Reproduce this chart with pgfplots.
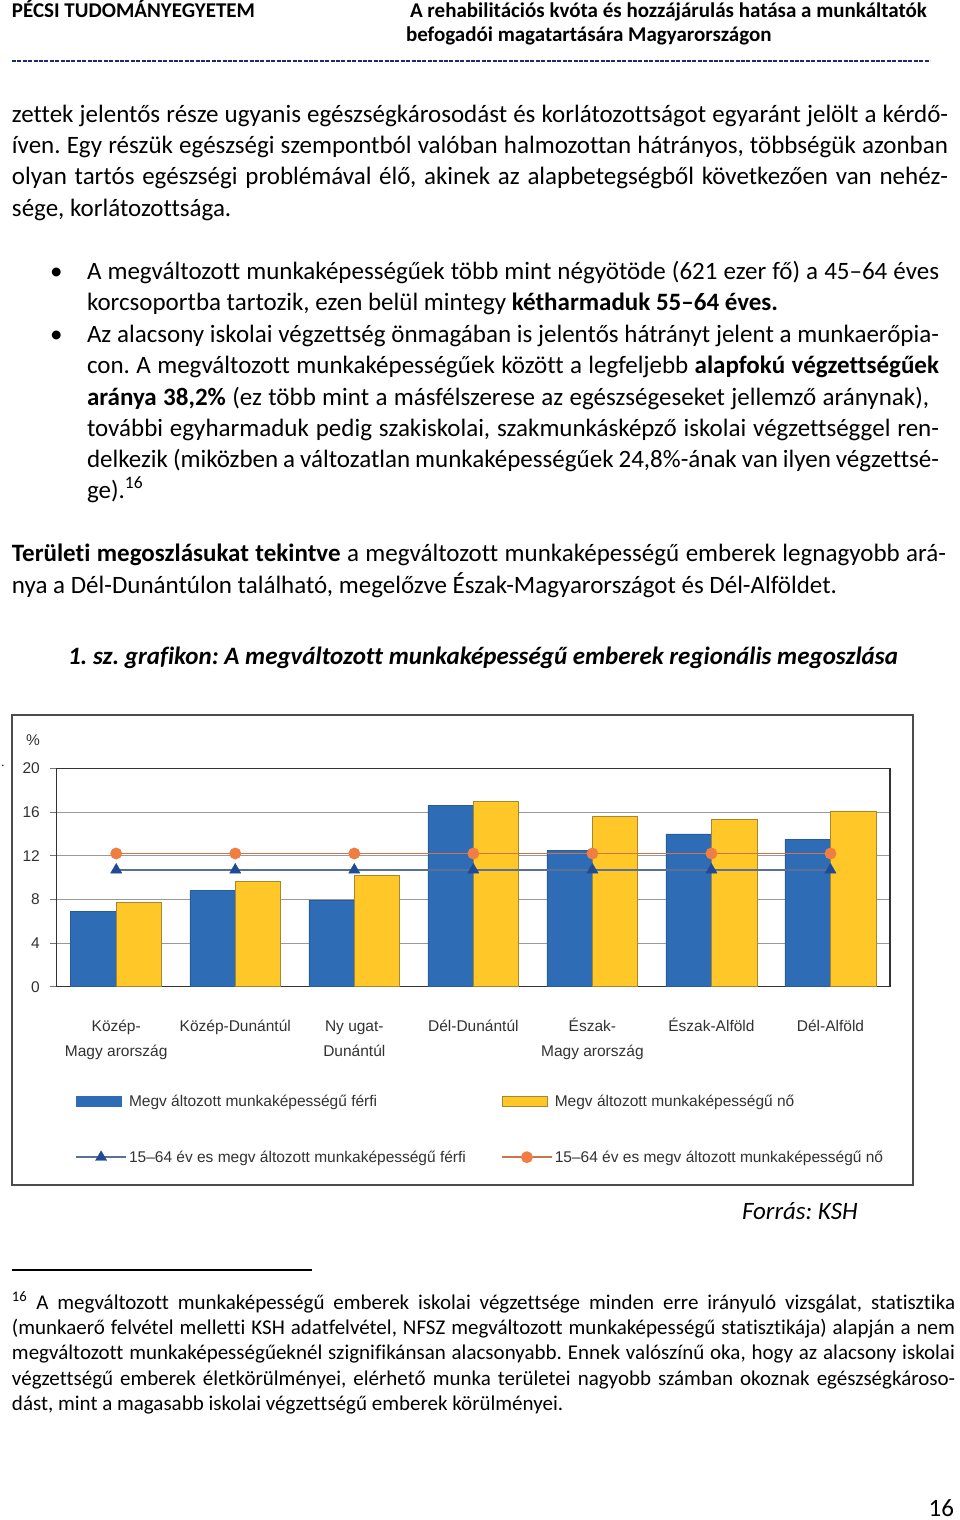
\documentclass[border=0pt]{standalone}
\usepackage{fontspec}
\setmainfont{Carlito}[Ligatures={NoCommon}]
\newfontfamily\chartfont{Liberation Sans}
\usepackage{pgfplots}
\pgfplotsset{compat=1.18}
\frenchspacing
\definecolor{barblue}{RGB}{46,108,182}
\definecolor{baryellow}{RGB}{255,200,40}
\definecolor{yedge}{RGB}{165,135,45}
\definecolor{lineorange}{RGB}{205,115,80}
\definecolor{markorange}{RGB}{240,125,65}
\definecolor{lineblue}{RGB}{90,112,150}
\definecolor{markblue}{RGB}{30,75,150}
\definecolor{charttext}{RGB}{50,50,50}
\definecolor{headblue}{RGB}{30,40,120}
\pgfplotsset{
  mylinelegend/.style={legend image code/.code={\draw[mark repeat=2, mark phase=2, ##1] plot coordinates {(0pt,0pt) (25pt,0pt) (50pt,0pt)};}},
  bluebarlegend/.style={legend image code/.code={\draw[fill=barblue, draw=barblue] (0pt,-5pt) rectangle (45pt,5pt);}},
  yellowbarlegend/.style={legend image code/.code={\draw[fill=baryellow, draw=yedge, line width=0.8pt] (0pt,-5pt) rectangle (45pt,5pt);}},
}
\newcommand{\txt}[3]{\node[anchor=base west] at (#1,#2) {#3};}
\newcommand{\jtx}[4]{\node[anchor=base west] at (#1,#2) {\makebox[#3pt][s]{#4}};}
\begin{document}
\begin{tikzpicture}
\begin{scope}[x=1pt,y=-1pt, every node/.style={inner sep=0pt, outer sep=0pt, font=\fontsize{25}{31}\selectfont}]
\useasboundingbox (0,0) rectangle (960,1520);
\fill[white] (0,0) rectangle (960,1520);
\begin{scope}[every node/.style={inner sep=0pt, outer sep=0pt, font=\fontsize{21}{25}\selectfont\bfseries}]
\txt{12}{18}{PÉCSI TUDOMÁNYEGYETEM}
\txt{410}{18}{A rehabilitációs kvóta és hozzájárulás hatása a munkáltatók}
\txt{406}{42}{befogadói magatartására Magyarországon}
\end{scope}
\draw[headblue, line width=1.8pt, dash pattern=on 4pt off 1.4pt] (12,61) -- (930,61);
% body
\jtx{12}{122}{936}{zettek jelentős része ugyanis egészségkárosodást és korlátozottságot egyaránt jelölt a kérdő-}
\jtx{12}{153}{936}{íven. Egy részük egészségi szempontból valóban halmozottan hátrányos, többségük azonban}
\jtx{12}{184}{936}{olyan tartós egészségi problémával élő, akinek az alapbetegségből következően van nehéz-}
\txt{12}{216}{sége, korlátozottsága.}
% bullets
\txt{50}{279}{•}
\jtx{87}{279}{852}{A megváltozott munkaképességűek több mint négyötöde (621 ezer fő) a 45–64 éves}
\txt{87}{310}{korcsoportba tartozik, ezen belül mintegy \textbf{kétharmaduk 55–64 éves.}}
\txt{50}{342}{•}
\jtx{87}{342}{852}{Az alacsony iskolai végzettség önmagában is jelentős hátrányt jelent a munkaerőpia-}
\jtx{87}{373}{852}{con. A megváltozott munkaképességűek között a legfeljebb \textbf{alapfokú végzettségűek}}
\jtx{87}{405}{842}{\textbf{aránya 38,2\%} (ez több mint a másfélszerese az egészségeseket jellemző aránynak),}
\jtx{87}{436}{852}{további egyharmaduk pedig szakiskolai, szakmunkásképző iskolai végzettséggel ren-}
\jtx{87}{467}{852}{delkezik (miközben a változatlan munkaképességűek 24,8\%-ának van ilyen végzettsé-}
\txt{87}{498}{ge).\textsuperscript{16}}
% paragraph
\jtx{12}{561}{934}{\textbf{Területi megoszlásukat tekintve} a megváltozott munkaképességű emberek legnagyobb ará-}
\txt{12}{593}{nya a Dél-Dunántúlon található, megelőzve Észak-Magyarországot és Dél-Alföldet.}
% caption
\txt{68}{664}{\bfseries\itshape 1. sz. grafikon: A megváltozott munkaképességű emberek regionális megoszlása}
% chart frame
\draw[black!70, line width=1.3pt] (12,715) rectangle (913,1185);
\node[font=\fontsize{12}{14}\selectfont] at (3,766) {.};
% source
\txt{742}{1219}{\itshape Forrás: KSH}
% footnote
\draw[black, line width=1.2pt] (12,1270) -- (312,1270);
\begin{scope}[every node/.style={inner sep=0pt, outer sep=0pt, font=\fontsize{21}{25}\selectfont}]
\jtx{12}{1309}{943}{\textsuperscript{16} A megváltozott munkaképességű emberek iskolai végzettsége minden erre irányuló vizsgálat, statisztika}
\jtx{12}{1334}{943}{(munkaerő felvétel melletti KSH adatfelvétel, NFSZ megváltozott munkaképességű statisztikája) alapján a nem}
\jtx{12}{1359}{943}{megváltozott munkaképességűeknél szignifikánsan alacsonyabb. Ennek valószínű oka, hogy az alacsony iskolai}
\jtx{12}{1385}{943}{végzettségű emberek életkörülményei, elérhető munka területei nagyobb számban okoznak egészségkároso-}
\txt{12}{1410}{dást, mint a magasabb iskolai végzettségű emberek körülményei.}
\end{scope}
\node[anchor=base east] at (954,1516) {16};
\end{scope}
\begin{axis}[
  at={(56.7pt,-986.7pt)}, anchor=south west,
  scale only axis, width=833.3pt, height=218.4pt,
  xmin=-0.5, xmax=6.5, ymin=0, ymax=20,
  xtick={0,...,6},
  xticklabels={
    {\begin{tabular}[t]{@{}c@{}}Közép-\\Magy arország\end{tabular}},
    {Közép-Dunántúl},
    {\begin{tabular}[t]{@{}c@{}}Ny ugat-\\Dunántúl\end{tabular}},
    {Dél-Dunántúl},
    {\begin{tabular}[t]{@{}c@{}}Észak-\\Magy arország\end{tabular}},
    {Észak-Alföld},
    {Dél-Alföld}},
  ytick={0,4,8,12,16,20},
  ytick pos=left,
  ymajorgrids, grid style={black!40, line width=0.9pt},
  axis line style={black!80, line width=1.3pt},
  tick align=outside, major tick length=6.7pt,
  xtick style={draw=none},
  ytick style={black!55, line width=0.9pt},
  tick label style={font=\chartfont\fontsize{15.5}{25}\selectfont, text=charttext},
  /pgf/number format/assume math mode=true,
  yticklabel style={anchor=east, inner sep=0pt, xshift=-10pt},
  xticklabel style={anchor=base, inner sep=0pt, yshift=-38.3pt},
  legend style={draw=none, fill=none, at={(0.022,-0.485)}, anchor=north west,
    font=\chartfont\fontsize{15.5}{18}\selectfont, text=charttext,
    row sep=39pt, inner sep=0pt, nodes={inner sep=2pt}},
  legend columns=2,
  legend cell align=left,
  clip=false,
]
\node[font=\chartfont\fontsize{15.5}{18}\selectfont, text=charttext] at (rel axis cs:-0.0284,1.13) {\%};
\addplot[ybar, bar width=45.5pt, bar shift=-22.75pt, fill=barblue, draw=barblue!85!black, line width=0.5pt, bluebarlegend]
  coordinates {(0,6.9) (1,8.8) (2,7.9) (3,16.6) (4,12.5) (5,14.0) (6,13.5)};
\addlegendentry{\makebox[370pt][l]{Megv áltozott munkaképességű férfi}}
\addplot[ybar, bar width=45.5pt, bar shift=22.75pt, fill=baryellow, draw=yedge, line width=0.8pt, yellowbarlegend]
  coordinates {(0,7.7) (1,9.6) (2,10.2) (3,17.0) (4,15.6) (5,15.3) (6,16.1)};
\addlegendentry{Megv áltozott munkaképességű nő}
\addplot[lineblue, line width=1.8pt, mark=triangle*, mark size=6.5pt,
  mark options={fill=markblue, draw=markblue, line width=0.3pt}, mylinelegend]
  coordinates {(0,10.7) (1,10.7) (2,10.7) (3,10.7) (4,10.7) (5,10.7) (6,10.7)};
\addlegendentry{\makebox[370pt][l]{15–64 év es megv áltozott munkaképességű férfi}}
\addplot[lineorange, line width=1.8pt, mark=*, mark size=5pt,
  mark options={fill=markorange, draw=markorange}, mylinelegend]
  coordinates {(0,12.2) (1,12.2) (2,12.2) (3,12.2) (4,12.2) (5,12.2) (6,12.2)};
\addlegendentry{15–64 év es megv áltozott munkaképességű nő}
\end{axis}
\end{tikzpicture}
\end{document}
